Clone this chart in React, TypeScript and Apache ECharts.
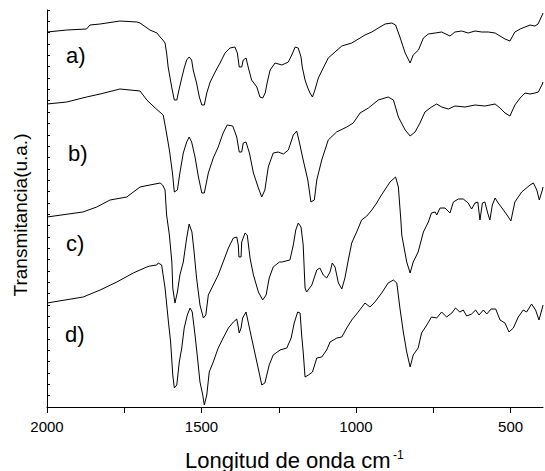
import React, { useEffect, useRef } from "react";
import * as echarts from "echarts";

// FTIR spectra: [wavenumber (cm-1), transmittance (a.u., offset traces)]
const traceA: [number, number][] = [
  [2000, 375], [1936, 377], [1872, 378], [1861, 382], [1828, 383], [1764, 386], [1709, 385], [1699, 384],
  [1667, 377], [1644, 374], [1634, 370], [1625, 367], [1618, 364], [1613, 354], [1608, 340], [1596, 319],
  [1588, 307], [1580, 307], [1573, 317], [1564, 329], [1556, 339], [1548, 347], [1540, 350], [1532, 347],
  [1527, 337], [1516, 324], [1507, 310], [1499, 302], [1491, 302], [1483, 314], [1472, 325], [1456, 335],
  [1440, 344], [1424, 354], [1408, 359], [1392, 360], [1384, 354], [1378, 340], [1370, 340], [1365, 347],
  [1356, 349], [1349, 340], [1338, 327], [1321, 320], [1311, 310], [1302, 309], [1294, 314], [1287, 325],
  [1278, 337], [1262, 344], [1240, 342], [1219, 345], [1208, 352], [1197, 360], [1187, 359], [1178, 350],
  [1174, 340], [1165, 327], [1156, 319], [1149, 314], [1141, 310], [1133, 317], [1122, 329], [1106, 339],
  [1090, 349], [1068, 355], [1046, 361], [1014, 364], [987, 369], [971, 372], [949, 375], [928, 379],
  [906, 383], [884, 384], [872, 382], [858, 370], [841, 354], [825, 344], [815, 352], [798, 357],
  [782, 369], [766, 373], [744, 374], [723, 375], [696, 371], [680, 375], [658, 376], [637, 374],
  [615, 376], [593, 375], [572, 375], [550, 374], [534, 371], [518, 368], [502, 366], [486, 375],
  [469, 378], [453, 380], [437, 382], [421, 381], [411, 383], [399, 391], [395, 394],
];

const traceB: [number, number][] = [
  [2000, 303], [1936, 305], [1872, 310], [1828, 313], [1764, 318], [1699, 316], [1677, 307], [1650, 299],
  [1624, 292], [1615, 277], [1604, 257], [1594, 234], [1588, 215], [1578, 217], [1570, 234], [1559, 254],
  [1548, 265], [1540, 270], [1532, 265], [1521, 250], [1510, 230], [1499, 214], [1491, 214], [1478, 234],
  [1462, 249], [1446, 260], [1430, 274], [1417, 282], [1399, 281], [1386, 270], [1378, 255], [1370, 255],
  [1365, 264], [1356, 265], [1345, 254], [1332, 234], [1316, 219], [1305, 210], [1295, 217], [1284, 240],
  [1268, 254], [1252, 255], [1235, 253], [1219, 257], [1203, 272], [1192, 276], [1185, 267], [1171, 247],
  [1156, 227], [1146, 205], [1135, 207], [1127, 227], [1111, 247], [1090, 267], [1063, 275], [1030, 280],
  [1009, 284], [987, 294], [960, 299], [928, 307], [896, 310], [879, 307], [863, 290], [841, 277],
  [825, 271], [809, 275], [793, 284], [777, 295], [756, 300], [739, 303], [723, 300], [701, 298],
  [680, 301], [647, 300], [615, 302], [583, 301], [550, 303], [534, 299], [518, 294], [502, 291],
  [486, 302], [469, 309], [453, 314], [437, 313], [421, 314], [410, 315], [397, 323], [395, 325],
];

const traceC: [number, number][] = [
  [2000, 190], [1884, 195], [1839, 200], [1796, 207], [1742, 210], [1699, 220], [1667, 222], [1634, 224],
  [1626, 222], [1618, 217], [1613, 192], [1604, 172], [1596, 145], [1593, 119], [1586, 104], [1578, 115],
  [1570, 132], [1559, 145], [1548, 169], [1540, 183], [1531, 175], [1524, 155], [1516, 129], [1505, 102],
  [1494, 89], [1486, 92], [1478, 112], [1462, 122], [1446, 132], [1430, 145], [1413, 159], [1397, 169],
  [1386, 170], [1381, 162], [1379, 150], [1372, 150], [1370, 165], [1359, 174], [1352, 172], [1343, 149],
  [1332, 132], [1316, 115], [1302, 107], [1291, 112], [1281, 129], [1268, 140], [1248, 145], [1240, 145],
  [1214, 147], [1203, 162], [1195, 177], [1187, 184], [1178, 180], [1171, 162], [1165, 119], [1160, 115],
  [1143, 122], [1127, 137], [1117, 139], [1106, 132], [1095, 129], [1084, 135], [1077, 144], [1068, 140],
  [1057, 124], [1046, 118], [1036, 129], [1025, 147], [1014, 164], [998, 175], [982, 187], [965, 191],
  [949, 197], [933, 204], [922, 210], [890, 225], [872, 230], [863, 220], [855, 187], [852, 172],
  [836, 145], [825, 134], [815, 145], [799, 155], [782, 175], [766, 185], [756, 194], [744, 195],
  [739, 192], [728, 199], [712, 199], [696, 194], [685, 205], [669, 208], [653, 208], [637, 204],
  [626, 198], [615, 204], [606, 205], [599, 187], [591, 204], [583, 205], [574, 194], [567, 187],
  [559, 202], [550, 209], [540, 204], [523, 197], [507, 190], [499, 186], [486, 205], [475, 210],
  [464, 215], [437, 222], [426, 224], [415, 217], [407, 207], [397, 217], [395, 220],
];

const traceD: [number, number][] = [
  [2000, 104], [1883, 110], [1828, 117], [1774, 125], [1721, 134], [1677, 140], [1667, 141], [1645, 142],
  [1640, 144], [1629, 142], [1618, 119], [1607, 85], [1600, 65], [1593, 32], [1588, 19], [1580, 22],
  [1572, 45], [1564, 59], [1556, 79], [1546, 92], [1537, 99], [1530, 95], [1521, 72], [1514, 52],
  [1505, 25], [1496, 12], [1491, 2], [1483, 12], [1475, 35], [1462, 45], [1446, 59], [1430, 69],
  [1413, 79], [1397, 85], [1386, 88], [1381, 80], [1378, 74], [1372, 79], [1367, 89], [1356, 95],
  [1349, 85], [1338, 69], [1321, 45], [1305, 22], [1295, 24], [1281, 42], [1268, 52], [1246, 57],
  [1224, 59], [1210, 69], [1200, 84], [1189, 95], [1181, 94], [1176, 72], [1171, 55], [1165, 30],
  [1154, 32], [1141, 35], [1127, 49], [1111, 50], [1095, 57], [1084, 65], [1062, 69], [1046, 70],
  [1030, 79], [1014, 87], [993, 95], [971, 104], [955, 100], [939, 105], [917, 114], [896, 124],
  [879, 127], [868, 124], [858, 99], [847, 75], [836, 55], [825, 40], [815, 52], [799, 59],
  [788, 74], [771, 82], [756, 90], [739, 89], [723, 95], [707, 90], [690, 94], [678, 99],
  [664, 95], [653, 97], [642, 91], [626, 93], [613, 97], [602, 92], [588, 97], [577, 93],
  [563, 98], [548, 98], [534, 87], [518, 84], [505, 75], [491, 79], [475, 90], [459, 97],
  [448, 95], [432, 103], [419, 97], [408, 87], [399, 97], [395, 102],
];

const traceLabels = ["a)", "b)", "c)", "d)"];
const xTickValues = [2000, 1750, 1500, 1250, 1000, 750, 500];
const xLabelValues = [2000, 1500, 1000, 500];
const xTitle = "Longitud de onda cm";
const xTitleSup = "-1";
const yTitle = "Transmitancia(u.a.)";

const FONT = "'Liberation Sans', Arial, Helvetica, sans-serif";

export default function App() {
  const ref = useRef<HTMLDivElement>(null);

  useEffect(() => {
    if (!ref.current) return;
    const chart = echarts.init(ref.current, null, { renderer: "svg" });
    const traces = [traceA, traceB, traceC, traceD];
    const labelPos = [
      [66, 55],
      [68, 153],
      [66, 243],
      [65, 334],
    ];
    chart.setOption({
      animation: false,
      backgroundColor: "#ffffff",
      grid: { left: 47, right: 2, top: 10, bottom: 64, containLabel: false },
      xAxis: {
        type: "value",
        inverse: true,
        min: 395,
        max: 2000,
        axisLine: { show: true, onZero: false, lineStyle: { color: "#000", width: 1 } },
        axisTick: {
          show: true,
          inside: false,
          length: 6,
          customValues: xTickValues,
          lineStyle: { color: "#000", width: 1 },
        },
        axisLabel: {
          show: true,
          customValues: xLabelValues,
          formatter: (v: number) => String(v),
          margin: 12,
          color: "#000",
          fontSize: 15,
          fontFamily: FONT,
        },
        splitLine: { show: false },
      },
      yAxis: {
        type: "value",
        min: 0,
        max: 397,
        interval: 397 / 35,
        axisLine: { show: true, onZero: false, lineStyle: { color: "#000", width: 1 } },
        axisTick: { show: true, inside: true, length: 3, lineStyle: { color: "#000", width: 1 } },
        axisLabel: { show: false },
        splitLine: { show: false },
      },
      series: traces.map((t, i) => ({
        type: "line",
        name: traceLabels[i],
        data: t,
        symbol: "none",
        smooth: false,
        lineStyle: { color: "#000", width: 1 },
      })),
      graphic: [
        ...traceLabels.map((txt, i) => ({
          type: "text",
          x: labelPos[i][0],
          y: labelPos[i][1],
          style: {
            text: txt,
            fill: "#000",
            font: `22px ${FONT}`,
            verticalAlign: "middle",
            align: "left",
          },
        })),
        {
          type: "text",
          x: 185,
          y: 460,
          style: {
            text: xTitle,
            fill: "#000",
            font: `22px ${FONT}`,
            verticalAlign: "middle",
            align: "left",
          },
        },
        {
          type: "text",
          x: 393,
          y: 455,
          style: {
            text: xTitleSup,
            fill: "#000",
            font: `12px ${FONT}`,
            verticalAlign: "middle",
            align: "left",
          },
        },
        {
          type: "text",
          x: 20,
          y: 215,
          rotation: Math.PI / 2,
          style: {
            text: yTitle,
            fill: "#000",
            font: `19px ${FONT}`,
            verticalAlign: "middle",
            align: "center",
          },
        },
      ],
    });
    return () => chart.dispose();
  }, []);

  return (
    <div
      ref={ref}
      style={{ position: "fixed", left: 0, top: 0, width: 545, height: 471, background: "#fff" }}
    />
  );
}
